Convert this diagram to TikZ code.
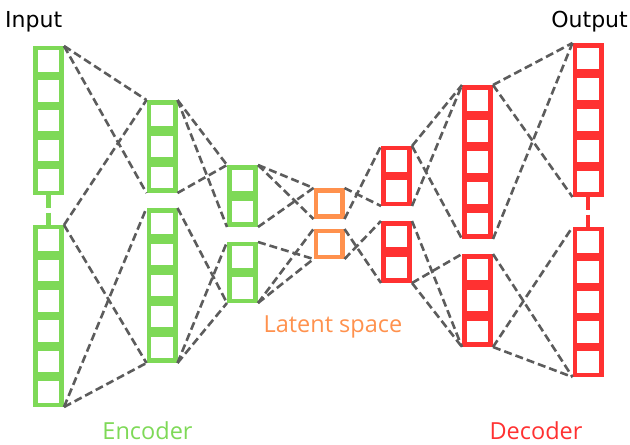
\documentclass[tikz,border=0pt]{standalone}
\usepackage{fontspec}
\newfontfamily\labelfont{DejaVu Sans}
\newfontfamily\partfont{Open Sans}
\definecolor{encgreen}{HTML}{7ED957}
\definecolor{decred}{HTML}{FF3131}
\definecolor{latorange}{HTML}{FF914D}
\definecolor{linegray}{HTML}{5C5C5C}
\tikzset{
  layerbox/.style={draw=none, inner sep=0pt, outer sep=0pt, minimum width=31pt},
  link/.style={draw=linegray, line width=2.6pt, dash pattern=on 8pt off 4pt},
  joiner/.style={line width=4.8pt, dash pattern=on 12.5pt off 5pt},
  iolabel/.style={inner sep=0pt, font=\labelfont\fontsize{22}{26}\selectfont},
  partlabel/.style={inner sep=0pt, anchor=base, font=\partfont\fontsize{23.5}{28}\selectfont},
}
% a layer: name, x centre, top, bottom, number of cells, colour
\newcommand\nnlayer[6]{%
  \node[layerbox, fill=#6, minimum height={(#4)-(#3)}] (#1) at (#2, {((#3)+(#4))/2}) {};
  \pgfmathsetmacro\nncell{((#4)-(#3))/(#5)}%
  \foreach \k in {1,...,#5}{%
    \pgfmathsetmacro\nnyc{(#3)+(\k-0.5)*\nncell}%
    \fill[white] ({#2-10.8},{\nnyc-10.8}) rectangle ({#2+10.8},{\nnyc+10.8});
  }%
}
\begin{document}
\begin{tikzpicture}[x=1pt, y=-1pt]
\useasboundingbox (0,0) rectangle (630,445);

% encoder
\nnlayer{e1a}{48.5}{46}{195}{5}{encgreen}
\nnlayer{e1b}{48.5}{225}{407}{6}{encgreen}
\nnlayer{e2a}{162}{100}{193}{3}{encgreen}
\nnlayer{e2b}{162}{208}{363}{5}{encgreen}
\nnlayer{e3a}{242.5}{165}{227}{2}{encgreen}
\nnlayer{e3b}{242.5}{242}{303}{2}{encgreen}
% latent space
\nnlayer{la}{329}{188}{219}{1}{latorange}
\nnlayer{lb}{329}{229}{259}{1}{latorange}
% decoder
\nnlayer{d1a}{396.5}{146}{206}{2}{decred}
\nnlayer{d1b}{396.5}{221}{283}{2}{decred}
\nnlayer{d2a}{477.5}{85}{239}{5}{decred}
\nnlayer{d2b}{477.5}{254}{347}{3}{decred}
\nnlayer{d3a}{588}{43}{197}{5}{decred}
\nnlayer{d3b}{588}{227}{377}{5}{decred}

% broken input / output columns
\draw[joiner, encgreen] (e1a.south) -- (e1b.north);
\draw[joiner, decred] (d3a.south) -- (d3b.north);

% connections between layers
\draw[link] (e1a.north east) -- (e2a.north west);
\draw[link] (e1a.north east) -- (e2a.south west);
\draw[link] (e1b.north east) -- (e2a.north west);
\draw[link] (e1b.north east) -- (e2b.south west);
\draw[link] (e1b.south east) -- (e2b.north west);
\draw[link] (e1b.south east) -- (e2b.south west);

\draw[link] (e2a.north east) -- (e3a.north west);
\draw[link] (e2a.north east) -- (e3a.south west);
\draw[link] (e2a.south east) -- (e3a.north west);
\draw[link] (e2b.north east) -- (e3b.south west);
\draw[link] (e2b.south east) -- (e3b.north west);
\draw[link] (e2b.south east) -- (e3b.south west);

\draw[link] (e3a.north east) -- (la.north west);
\draw[link] (e3a.north east) -- (la.south west);
\draw[link] (e3a.south east) -- (la.north west);
\draw[link] (e3b.north east) -- (lb.south west);
\draw[link] (e3b.south east) -- (lb.north west);
\draw[link] (e3b.south east) -- (lb.south west);

\draw[link] (la.north east) -- (d1a.south west);
\draw[link] (la.south east) -- (d1a.north west);
\draw[link] (lb.north east) -- (d1b.south west);
\draw[link] (lb.south east) -- (d1b.north west);

\draw[link] (d1a.north east) -- (d2a.north west);
\draw[link] (d1a.north east) -- (d2a.south west);
\draw[link] (d1a.south east) -- (d2a.north west);
\draw[link] (d1b.north east) -- (d2b.south west);
\draw[link] (d1b.south east) -- (d2b.north west);
\draw[link] (d1b.south east) -- (d2b.south west);

\draw[link] (d2a.north east) -- (d3a.north west);
\draw[link] (d2a.north east) -- (d3a.south west);
\draw[link] (d2a.south east) -- (d3a.north west);
\draw[link] (d2b.north east) -- (d3b.south west);
\draw[link] (d2b.south east) -- (d3b.north west);
\draw[link] (d2b.south east) -- (d3b.south west);

% labels
\node[iolabel, anchor=base west] (inlabel) at (5,27) {Input};
\node[iolabel, anchor=base east] (outlabel) at (628,27) {Output};
\node[partlabel, text=encgreen] (enclabel) at (147.5,439) {Encoder};
\node[partlabel, text=decred] (declabel) at (536,439) {Decoder};
\node[partlabel, text=latorange] (latlabel) at (333,332) {Latent space};
\end{tikzpicture}
\end{document}
